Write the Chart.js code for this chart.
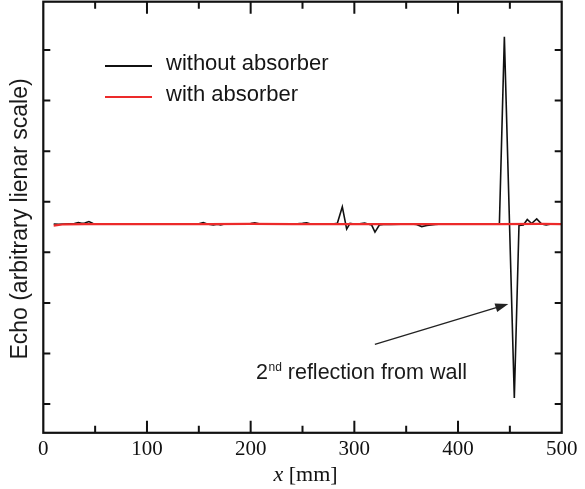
<!DOCTYPE html>
<html>
<head>
<meta charset="utf-8">
<script src="https://cdn.jsdelivr.net/npm/chart.js@4.4.0/dist/chart.umd.min.js"></script>
<style>
  html, body { margin: 0; padding: 0; background: #fff; }
  #wrap { width: 585px; height: 489px; position: relative; }
</style>
</head>
<body>
<div id="wrap"><canvas id="c"></canvas></div>
<script>
// ---- data (x in mm, echo in arbitrary units) ----
const blackX = [10,15,20,25,30,33.8,37,40,44,48,55,60,70,80,90,100,110,120,130,140,
  150,154.3,158,164,168,171,175,180,190,200,204,208,215,225,235,245,250,254,258,265,
  270,275,279,283.6,288.4,292.6,295.8,300,305,310,313,316.7,319.9,324.1,328,335,345,352,360,365,
  370,378,385,395,405,415,425,435,439.9,444.7,454.3,458.8,463,466.8,471,475.9,480.7,485,490,495,500];
const blackY = [3.56,3.555,3.56,3.565,3.57,3.59,3.575,3.58,3.61,3.57,3.56,3.555,3.56,3.555,3.56,3.565,3.56,3.555,3.56,3.56,
  3.565,3.59,3.56,3.54,3.555,3.54,3.56,3.555,3.56,3.57,3.585,3.565,3.56,3.555,3.56,3.565,3.575,3.585,3.56,3.56,
  3.555,3.565,3.56,3.575,3.90,3.46,3.575,3.56,3.565,3.58,3.56,3.54,3.40,3.54,3.55,3.55,3.555,3.565,3.55,3.51,
  3.53,3.55,3.56,3.555,3.56,3.555,3.56,3.555,3.56,7.26,0.12,3.53,3.54,3.65,3.57,3.66,3.56,3.54,3.56,3.555,3.56];
const redX = [10,20,40,80,120,160,200,240,280,320,360,400,440,480,500];
const redY = [3.53,3.555,3.56,3.56,3.56,3.56,3.562,3.56,3.56,3.558,3.56,3.56,3.56,3.562,3.56];

const seriesNames = ["without absorber", "with absorber"];
const xTickLabels = [0,100,200,300,400,500];
const xMajorTicks = [100,200,300,400];
const xMinorTicks = [50,150,250,350,450];
const yTicks = [0,1,2,3,4,5,6,7];
const xRange = [0, 500];
const yRange = [-0.567, 7.955];
// annotation arrow (data units): tail and tip
const arrowTail = {x: 319.8, y: 1.18};
const arrowTip = {x: 448.5, y: 1.98};
const annotText = ["2", "nd", " reflection from wall"];

const toPts = (xs, ys) => xs.map((v, i) => ({x: v, y: ys[i]}));

const decor = {
  id: 'decor',
  beforeDraw(chart) {
    const ctx = chart.ctx;
    ctx.save();
    ctx.fillStyle = '#fff';
    ctx.fillRect(0, 0, chart.width, chart.height);
    ctx.restore();
  },
  afterDraw(chart) {
    const ctx = chart.ctx;
    const {left, right, top, bottom} = chart.chartArea;
    const xs = chart.scales.x, ys = chart.scales.y;
    ctx.save();
    // frame
    ctx.strokeStyle = '#111';
    ctx.lineWidth = 2.2;
    ctx.strokeRect(left, top, right - left, bottom - top);
    // ticks
    ctx.lineWidth = 2;
    ctx.beginPath();
    yTicks.forEach(v => {
      const py = ys.getPixelForValue(v);
      ctx.moveTo(left, py); ctx.lineTo(left + 7, py);
      ctx.moveTo(right, py); ctx.lineTo(right - 7, py);
    });
    xMajorTicks.forEach(v => {
      const px = xs.getPixelForValue(v);
      ctx.moveTo(px, bottom); ctx.lineTo(px, bottom - 12);
      ctx.moveTo(px, top); ctx.lineTo(px, top + 12);
    });
    xMinorTicks.forEach(v => {
      const px = xs.getPixelForValue(v);
      ctx.moveTo(px, bottom); ctx.lineTo(px, bottom - 7);
      ctx.moveTo(px, top); ctx.lineTo(px, top + 7);
    });
    ctx.stroke();

    // legend
    const colors = ['#111', '#ec2a2a'];
    const ly = [66, 97];
    ctx.font = '22px "Liberation Sans", Arial, sans-serif';
    ctx.textBaseline = 'middle';
    ctx.textAlign = 'left';
    seriesNames.forEach((n, i) => {
      ctx.strokeStyle = colors[i];
      ctx.lineWidth = 2;
      ctx.beginPath();
      ctx.moveTo(105, ly[i]); ctx.lineTo(152, ly[i]);
      ctx.stroke();
      ctx.fillStyle = '#151515';
      ctx.fillText(n, 166, ly[i] - 2);
    });

    // y title
    ctx.save();
    ctx.translate(21, 219);
    ctx.rotate(-Math.PI / 2);
    ctx.textAlign = 'center';
    ctx.textBaseline = 'middle';
    ctx.font = '23px "Liberation Sans", Arial, sans-serif';
    ctx.fillStyle = '#1a1a1a';
    ctx.fillText('Echo (arbitrary lienar scale)', 0, 0);
    ctx.restore();

    // x title: italic x + [mm]
    ctx.font = 'italic 22px "Liberation Serif", "Times New Roman", serif';
    const w1 = ctx.measureText('x').width;
    ctx.font = '22px "Liberation Serif", "Times New Roman", serif';
    const w2 = ctx.measureText(' [mm]').width;
    const cx = (left + right) / 2 + 3;
    let sx = cx - (w1 + w2) / 2;
    ctx.textAlign = 'left';
    ctx.textBaseline = 'middle';
    ctx.fillStyle = '#111';
    ctx.font = 'italic 22px "Liberation Serif", "Times New Roman", serif';
    ctx.fillText('x', sx, 475);
    ctx.font = '22px "Liberation Serif", "Times New Roman", serif';
    ctx.fillText(' [mm]', sx + w1, 475);

    // annotation arrow
    const tx = xs.getPixelForValue(arrowTail.x), ty = ys.getPixelForValue(arrowTail.y);
    const hx = xs.getPixelForValue(arrowTip.x), hy = ys.getPixelForValue(arrowTip.y);
    const ang = Math.atan2(hy - ty, hx - tx);
    ctx.strokeStyle = '#222';
    ctx.fillStyle = '#222';
    ctx.lineWidth = 1.3;
    ctx.beginPath();
    ctx.moveTo(tx, ty);
    ctx.lineTo(hx - 10 * Math.cos(ang), hy - 10 * Math.sin(ang));
    ctx.stroke();
    ctx.beginPath();
    ctx.moveTo(hx, hy);
    ctx.lineTo(hx - 13 * Math.cos(ang) + 4.5 * Math.sin(ang), hy - 13 * Math.sin(ang) - 4.5 * Math.cos(ang));
    ctx.lineTo(hx - 13 * Math.cos(ang) - 4.5 * Math.sin(ang), hy - 13 * Math.sin(ang) + 4.5 * Math.cos(ang));
    ctx.closePath();
    ctx.fill();

    // annotation text
    let ax = 256, ay = 372;
    ctx.fillStyle = '#1a1a1a';
    ctx.textBaseline = 'alphabetic';
    ctx.font = '21.5px "Liberation Sans", Arial, sans-serif';
    ctx.fillText(annotText[0], ax, ay + 7);
    ax += ctx.measureText(annotText[0]).width + 0.5;
    ctx.font = '12px "Liberation Sans", Arial, sans-serif';
    ctx.fillText(annotText[1], ax, ay - 1);
    ax += ctx.measureText(annotText[1]).width;
    ctx.font = '21.5px "Liberation Sans", Arial, sans-serif';
    ctx.fillText(annotText[2], ax, ay + 7);
    ctx.restore();
  }
};

new Chart(document.getElementById('c'), {
  type: 'line',
  data: {
    datasets: [
      { label: seriesNames[0], data: toPts(blackX, blackY), borderColor: '#111', borderWidth: 1.6,
        pointRadius: 0, tension: 0, order: 2 },
      { label: seriesNames[1], data: toPts(redX, redY), borderColor: '#ec2a2a', borderWidth: 2.2,
        pointRadius: 0, tension: 0, order: 1 }
    ]
  },
  options: {
    responsive: true,
    maintainAspectRatio: false,
    animation: false,
    events: [],
    layout: { padding: { left: 43.3, right: 23.3, top: 1.7, bottom: 23 } },
    plugins: { legend: { display: false }, tooltip: { enabled: false } },
    scales: {
      x: {
        type: 'linear', min: xRange[0], max: xRange[1],
        grid: { display: false, drawTicks: false },
        border: { display: false },
        afterBuildTicks: s => { s.ticks = xTickLabels.map(v => ({value: v})); },
        ticks: { padding: 4, maxRotation: 0, autoSkip: false, color: '#111',
          font: { family: '"Liberation Serif", "Times New Roman", serif', size: 21 } }
      },
      y: {
        type: 'linear', min: yRange[0], max: yRange[1], display: false
      }
    }
  },
  plugins: [decor]
});
</script>
</body>
</html>
